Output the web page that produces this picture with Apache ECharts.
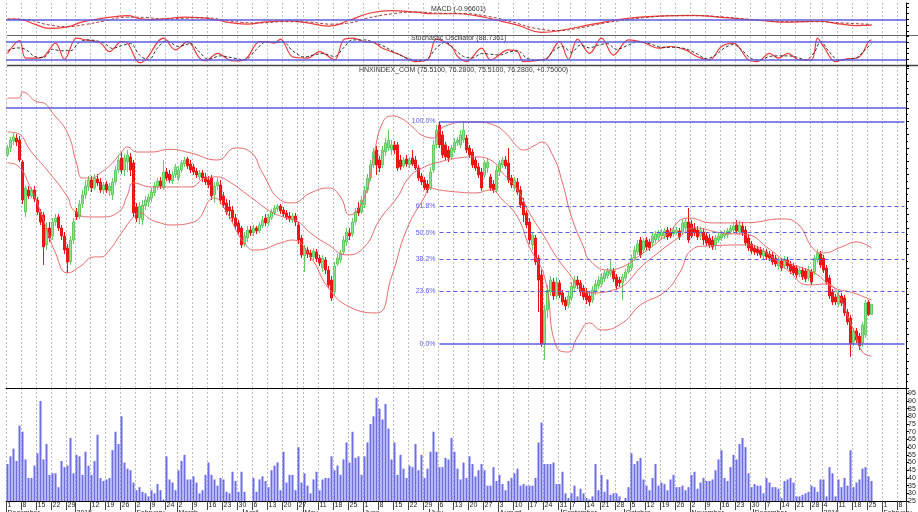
<!DOCTYPE html>
<html>
<head>
<meta charset="utf-8">
<style>
html, body { margin: 0; padding: 0; background: #fff; }
#main { width: 918px; height: 512px; }
</style>
<script src="https://cdn.jsdelivr.net/npm/echarts@6.0.0/dist/echarts.min.js"></script>
</head>
<body>
<div id="main"></div>
<script>
// trading calendar: weekdays from Dec 1 2014, minus market holidays, then empty future slots
var HOLIDAYS = ['2015-01-01', '2015-01-02', '2015-02-16', '2015-02-17', '2015-02-18', '2015-02-19',
  '2015-02-20', '2015-02-23', '2015-04-28', '2015-04-30', '2015-05-01', '2015-09-02', '2016-01-01'];
var LAST_TRADING_DAY = '2016-01-26';
var SLOTS = 300;
var MONTHS = ['January', 'February', 'March', 'April', 'May', 'June', 'July', 'August',
  'September', 'October', 'November', 'December'];

// daily candles [open, close, low, high]
var candles = [
  [87.48,88.0,87.33,88.23],[88.0,88.6,87.7,88.83],[88.53,88.83,88.23,89.13],[88.75,88.45,88.15,89.05],[88.6,87.1,86.95,88.9],
  [86.95,84.1,83.8,87.1],[83.2,85.0,82.83,85.15],[84.85,84.4,84.18,85.15],[84.4,84.85,84.25,85.08],[84.85,84.18,83.95,85.15],
  [84.1,83.2,82.98,84.33],[83.2,82.45,82.23,83.43],[82.98,80.58,79.23,83.2],[80.73,82.0,80.35,82.45],[82.0,81.25,80.95,82.45],
  [81.4,82.45,81.1,82.75],[82.45,82.75,82.15,83.05],[82.83,82.0,81.78,83.05],[82.0,81.4,81.1,82.23],[81.4,80.35,80.05,81.7],
  [80.5,79.45,78.63,80.8],[79.45,81.1,79.23,81.4],[81.1,82.45,80.8,82.75],
  [83.2,82.83,82.6,83.5],[82.83,83.8,82.68,84.1],[83.8,84.48,83.5,84.85],[84.48,85.15,84.18,85.6],[85.08,85.6,84.78,85.9],
  [85.6,85.0,84.7,85.9],[85.0,85.75,84.85,86.05],[85.68,85.38,85.15,86.05],[85.45,84.85,84.63,85.75],[84.85,85.23,84.55,85.45],
  [85.3,84.85,84.63,85.53],[84.78,85.15,84.4,85.38],[84.48,85.45,84.1,85.75],[85.45,86.35,85.23,86.65],[86.35,87.1,86.13,87.4],
  [87.25,86.35,86.05,87.7],[86.35,87.25,85.9,87.55],[86.95,87.48,86.2,87.85],[87.33,86.35,85.9,87.63],[86.88,83.13,82.83,87.1],
  [83.58,82.75,82.45,83.88],[82.75,83.65,82.3,83.95],[82.6,83.73,82.23,84.1],[83.65,84.1,83.35,84.4],[83.95,84.33,83.58,84.55],
  [84.25,84.7,83.95,85.0],[84.63,85.15,84.4,85.45],[85.08,85.53,84.85,85.75],[85.53,85.15,84.93,85.83],[85.0,86.2,84.85,87.1],
  [86.2,85.75,85.53,86.5],[86.05,85.6,85.38,86.35],[85.53,85.98,85.3,86.28],[85.98,86.58,85.75,86.8],
  [85.75,86.35,85.53,86.65],[86.35,86.88,86.13,87.1],[86.8,87.1,86.58,87.33],[87.18,86.65,86.43,87.33],[86.8,86.35,86.13,87.1],
  [86.58,86.2,85.98,86.8],[86.28,85.98,85.75,86.5],[85.83,86.13,85.6,86.35],[86.13,85.75,85.45,86.35],[85.83,85.45,85.23,86.13],
  [85.6,85.23,85.0,85.9],[85.75,84.4,84.1,85.98],[84.48,85.15,83.88,85.45],[85.15,85.45,84.85,85.75],[85.23,84.1,83.8,85.6],
  [84.4,83.73,83.5,84.7],[83.88,83.2,82.98,84.18],[83.58,83.28,82.68,84.1],[83.35,82.75,82.45,83.65],[82.75,82.15,81.93,83.05],
  [82.38,81.7,81.48,82.6],[82.0,80.73,80.5,82.15],[80.8,81.4,80.58,81.7],[81.25,81.85,80.95,82.15],[81.85,81.63,81.4,82.15],
  [81.63,82.0,81.4,82.23],[82.0,81.78,81.55,82.15],[81.78,82.23,81.63,82.45],[82.15,82.6,82.0,82.9],[82.75,82.38,82.15,83.05],
  [82.38,82.83,82.15,83.05],[82.75,83.2,82.6,83.43],[83.13,83.5,82.98,83.73],[83.43,83.65,83.2,83.8],[83.65,83.28,83.05,83.8],
  [83.35,83.05,82.83,83.58],[83.13,82.83,82.6,83.35],[82.9,82.68,82.45,83.2],[82.6,82.9,82.38,83.13],[82.9,82.45,82.15,83.13],
  [82.23,81.1,80.8,82.45],[81.25,79.98,79.75,81.48],
  [79.9,80.5,78.7,80.73],[80.35,80.05,79.75,80.58],[80.13,79.83,79.53,80.35],[79.83,80.28,79.6,80.5],[80.2,79.68,79.45,80.43],
  [79.75,79.38,79.15,79.98],[79.0,79.75,78.7,79.98],[79.6,78.85,78.55,79.83],[78.85,77.73,77.5,79.15],[78.1,76.75,76.53,78.4],
  [77.2,79.15,76.9,79.45],[79.3,79.75,79.15,80.05],[79.6,80.13,79.38,80.35],[80.2,81.1,79.98,81.4],[80.95,81.7,80.65,82.0],
  [81.63,81.4,81.1,82.0],[81.55,82.45,81.33,82.75],[82.45,83.2,82.23,83.5],[83.5,83.13,82.9,83.95],[83.2,84.1,83.05,84.4],
  [83.73,84.85,83.5,85.15],[84.85,85.75,84.63,86.05],[85.75,86.73,85.53,87.1],[86.73,87.7,86.5,88.0],[87.85,86.73,85.98,88.15],
  [87.1,86.5,86.2,87.4],[86.73,87.85,86.5,88.15],[87.7,88.38,87.4,88.75],[88.0,88.6,87.78,89.35],[87.85,88.23,87.48,88.6],
  [88.23,87.85,87.55,88.53],[88.23,86.5,86.28,88.45],[87.1,86.58,86.35,87.48],[86.65,87.1,86.5,87.33],[87.18,86.8,86.58,87.48],
  [86.73,87.1,86.5,87.33],[87.25,86.8,86.65,87.85],[87.1,86.5,86.35,87.4],[86.5,85.75,85.53,86.73],[85.9,85.45,85.23,86.13],
  [85.6,85.0,84.85,85.83],[85.3,84.85,84.63,85.6],[85.0,86.2,84.85,86.58],[86.35,88.23,86.13,88.6],[88.23,89.35,88.0,89.73],
  [89.73,88.23,88.0,90.0],[88.98,87.48,87.25,89.28],[88.23,87.33,87.1,88.45],[87.85,87.25,86.95,88.15],[87.33,88.0,87.1,88.23],
  [87.85,88.45,87.63,88.75],[88.38,88.6,88.15,88.83],[88.23,88.98,88.0,89.35],[88.6,89.35,88.38,89.95],[88.75,87.85,87.63,88.98],
  [88.0,87.48,87.25,88.23],[87.7,86.73,86.5,87.93],[87.1,86.5,86.28,87.33],[86.58,85.98,85.75,86.88],[86.2,85.0,84.78,86.5],
  [85.98,86.88,85.75,87.1],[86.5,86.95,86.13,87.25],[85.83,85.0,84.78,86.05],[85.3,84.85,84.63,85.6],[84.85,86.35,84.63,86.65],
  [86.2,86.88,85.9,87.1],[86.73,87.1,86.5,87.33],[87.1,86.65,86.43,87.4],[86.88,85.6,85.38,88.0],[85.75,85.23,85.0,85.98],
  [85.0,85.6,84.78,85.83],[85.45,84.7,84.48,85.75],[84.85,83.73,83.5,85.15],[83.95,82.98,82.45,84.25],[83.13,82.23,82.0,83.35],
  [82.45,81.1,80.8,82.75],[80.73,81.48,80.35,81.7],[81.25,79.45,79.23,81.48],[79.75,78.1,75.7,79.98],[78.48,73.3,73.08,78.85],
  [73.3,75.85,72.1,76.23],[75.85,77.35,75.25,77.73],[77.2,78.1,76.9,78.4],[77.95,76.9,76.6,78.25],[76.9,77.95,76.68,78.33],
  [77.88,76.98,76.75,78.1],[77.13,76.45,76.23,77.35],[76.6,76.15,75.85,76.83],[76.23,76.9,76.0,77.2],
  [76.75,77.65,76.53,77.95],[77.5,78.1,77.28,78.4],[78.1,77.73,77.43,78.4],[77.88,77.2,76.9,78.1],[77.5,76.83,76.6,77.73],
  [77.2,76.6,76.3,77.5],[76.9,76.45,76.15,77.2],[76.6,77.35,76.38,77.65],[77.2,77.8,76.98,78.1],[77.65,78.1,77.43,78.4],
  [77.8,78.33,77.58,78.63],[78.18,78.63,77.95,78.85],[78.4,78.78,78.18,79.0],[78.55,78.85,78.33,79.6],[78.78,78.18,77.95,79.0],
  [78.33,77.65,77.35,78.55],[78.1,77.88,77.58,78.33],[77.88,78.33,76.6,78.55],[78.25,78.7,78.03,78.93],[78.7,79.15,78.55,79.38],
  [79.0,79.75,78.78,79.98],[79.75,80.35,79.53,80.65],[80.2,80.8,79.98,81.1],[81.1,79.98,79.75,81.33],[80.35,81.03,80.13,81.25],
  [81.1,80.58,80.35,81.33],[80.95,80.5,80.28,81.18],[80.88,81.4,80.65,81.63],[81.1,81.55,80.88,81.78],[81.25,81.63,81.03,81.85],
  [81.4,81.7,81.18,81.93],[81.4,81.78,81.18,82.0],[81.85,81.33,81.1,82.08],[81.7,81.4,81.25,82.0],[81.55,81.85,81.33,82.08],
  [81.63,81.85,81.48,82.08],[81.78,81.33,81.1,82.0],[81.7,82.38,81.48,82.6],[82.0,82.45,81.78,82.68],[82.45,81.1,80.88,83.5],
  [82.3,81.4,81.25,82.6],[82.0,81.63,81.4,82.38],[81.85,81.33,81.1,82.15],[81.4,81.85,81.1,82.08],[81.7,81.1,80.73,82.0],
  [81.4,80.88,80.65,81.7],[81.25,80.73,80.5,81.55],[81.1,80.58,80.35,81.4],[80.73,81.25,80.35,81.48],[81.1,81.4,80.88,81.7],
  [81.25,81.55,81.03,81.78],[81.4,81.63,81.18,81.85],[81.48,81.78,81.25,82.0],[81.7,82.0,81.48,82.23],[81.85,82.15,81.63,82.45],
  [82.23,81.78,81.55,82.6],[81.7,82.23,81.48,82.53],[82.15,81.63,81.4,82.45],[81.85,80.88,80.65,82.15],[81.25,80.5,80.28,81.55],
  [80.8,80.28,80.05,81.03],[80.5,80.2,79.98,80.73],[80.43,80.13,79.9,80.65],[80.35,79.98,79.75,80.58],[79.9,80.28,79.68,80.5],
  [80.2,79.83,79.6,80.43],[80.05,79.75,79.53,80.28],[79.98,79.45,79.23,80.2],[79.75,79.3,79.08,79.98],[79.15,79.6,78.85,79.83],
  [79.53,79.0,78.78,79.75],[79.15,79.68,78.93,79.9],[79.6,79.15,78.93,79.83],[79.3,78.78,78.55,79.53],[79.15,78.63,78.4,79.38],
  [79.0,78.48,78.25,79.23],[78.55,78.85,78.33,79.08],[78.85,78.33,78.1,79.08],[78.78,78.18,77.95,79.0],[78.25,78.85,78.03,79.15],
  [78.7,77.95,77.73,78.93],[78.7,79.75,78.48,79.98],[79.6,80.13,79.38,80.43],[80.05,79.23,79.0,80.28],
  [79.75,78.85,78.63,79.98],[79.0,77.95,77.73,79.23],[78.25,76.9,76.68,78.48],[77.2,76.45,76.23,77.43],[76.83,76.45,76.23,77.05],
  [76.3,76.98,76.08,77.35],[76.9,76.38,76.15,77.13],[76.75,75.63,75.4,76.98],[75.7,74.95,74.73,75.93],[75.25,73.3,72.33,75.48],
  [73.45,74.28,73.15,74.5],[74.28,73.6,73.38,74.5],[73.9,73.15,72.85,74.13],[73.38,74.73,73.08,74.95],[73.98,76.38,73.75,76.6],
  [76.45,75.53,75.4,76.6],[75.51,76.28,75.51,76.28]
];

// daily volume (millions)
var volumes = [
  49,54,59,51,74,70,52,40,40,48, 56,90,52,62,42,43,43,34,51,47,
  48,66,43,55,54,42,57,48,42,51, 68,40,38,39,40,58,70,62,80,50,
  46,45,37,32,34,31,30,28,32,30, 36,32,26,54,39,37,32,45,51,55,
  39,39,41,37,30,32,42,50,42,39, 35,40,39,31,30,44,38,31,44,31,
  25,24,40,31,39,41,38,34,45,48, 50,32,57,37,42,42,32,60,37,43,
  35,30,39,44,32,39,40,40,54,45, 48,42,52,63,50,70,53,54,42,54,
  63,75,80,92,85,78,88,72,52,63, 42,55,46,40,48,47,62,45,55,40,
  46,57,70,57,47,47,53,52,66,57, 46,39,50,40,54,49,41,45,49,45,
  35,35,47,38,42,36,32,38,40,43, 46,35,36,35,35,35,40,63,76,49,
  49,49,50,36,36,44,30,27,30,35, 28,33,30,27,26,28,49,32,42,31,
  39,29,30,30,28,25,27,34,56,49, 51,53,39,35,32,40,49,35,37,36,
  32,39,42,34,34,35,32,34,42,44, 33,37,40,38,38,39,45,52,58,40,
  38,47,55,52,62,66,60,43,34,36, 35,35,30,40,37,34,34,33,27,38,
  39,40,37,28,28,29,30,31,35,34, 31,39,39,28,47,43,28,39,34,40,
  35,58,34,37,39,46,47,41,38
];

// Bollinger bands, [day index, level]
var bollUpper = [[0,91.75],[4,91.75],[5,92.2],[10,91.45],[12,91.38],[15,90.63],[20,89.13],[23,86.88],[25,85.75],
  [28,85.75],[31,86.13],[35,86.88],[38,87.7],[40,88.08],[43,87.7],[48,87.7],[54,87.9],[61,87.63],[70,87.1],
  [76,88.0],[81,87.7],[85,86.13],[91,84.1],[95,83.88],[101,84.63],[107,85.0],[111,84.33],[114,82.98],[119,84.33],
  [122,87.33],[125,89.88],[128,90.4],[131,90.25],[135,89.58],[138,88.98],[142,88.75],[144,89.35],[147,89.73],
  [152,89.95],[156,89.95],[162,89.73],[166,89.13],[170,88.08],[172,87.85],[176,88.23],[178,88.45],[182,87.33],
  [185,85.38],[188,82.83],[192,80.58],[194,79.6],[200,78.85],[204,79.0],[211,79.98],[219,81.33],[227,82.75],
  [235,82.38],[247,82.4],[258,82.68],[263,82.38],[269,80.35],[272,80.13],[278,80.58],[283,80.95],[288,80.5]];
var bollMiddle = [[0,89.2],[3,89.13],[8,87.7],[14,86.13],[20,84.33],[22,83.35],[27,82.83],[31,82.83],[37,83.2],
  [40,84.48],[42,85.38],[48,85.08],[54,85.08],[61,85.08],[66,85.75],[70,85.83],[73,85.6],[81,84.33],[88,83.2],
  [93,82.75],[97,82.45],[101,81.63],[107,80.73],[113,79.98],[119,80.58],[124,82.6],[130,84.33],[134,85.83],
  [139,86.58],[144,86.95],[150,87.25],[156,87.33],[161,87.1],[165,86.13],[170,84.85],[174,83.13],[179,81.33],
  [183,79.83],[188,78.33],[191,77.35],[194,77.13],[202,77.35],[213,79.45],[224,81.33],[229,82.0],[238,81.63],
  [247,81.48],[253,80.58],[260,79.45],[269,78.63],[275,77.58],[282,77.13],[288,76.6]];
var bollLower = [[0,86.88],[3,86.73],[8,84.85],[12,82.6],[16,80.13],[20,78.63],[24,79.08],[29,79.83],[31,79.83],
  [34,80.35],[38,81.63],[42,82.83],[44,83.13],[48,82.6],[51,82.38],[54,82.23],[62,82.45],[69,84.25],[72,83.58],
  [80,80.58],[83,80.35],[91,80.88],[95,81.1],[101,79.83],[107,77.5],[114,76.08],[123,75.63],[128,78.33],
  [133,81.85],[139,84.33],[141,85.0],[144,84.85],[150,84.7],[156,84.63],[161,84.85],[165,84.1],[170,82.83],
  [174,80.58],[179,78.33],[183,73.08],[187,72.7],[190,73.83],[194,74.88],[198,74.35],[205,74.88],[211,76.23],
  [219,77.2],[224,78.63],[228,80.35],[233,80.65],[247,80.73],[253,80.13],[260,78.85],[267,77.73],[273,77.8],
  [276,77.35],[282,74.35],[285,72.7],[288,72.4]];

// MACD and its signal line
var macdLine = [[0,0.05],[4,0.0],[9,-0.8],[14,-1.5],[20,-1.24],[25,-0.43],[31,0.11],[36,0.45],[40,0.6],[44,0.11],
  [48,-0.05],[53,0.11],[59,0.37],[64,0.27],[70,-0.16],[75,-0.6],[80,-0.8],[86,-0.43],[94,-0.27],[100,-0.6],
  [107,-1.13],[114,-0.16],[120,0.92],[128,1.45],[136,1.18],[142,0.92],[150,0.92],[156,0.6],[161,0.11],
  [170,-0.97],[178,-2.15],[184,-1.89],[195,-0.81],[206,0.11],[217,0.53],[228,0.65],[239,0.27],[250,-0.16],
  [261,-0.48],[270,-0.32],[278,-0.81],[283,-1.05],[288,-0.97]];
var macdSignal = [[0,0.05],[5,0.0],[14,-0.95],[20,-1.2],[26,-0.85],[32,-0.3],[40,0.35],[46,0.3],[52,0.05],
  [60,0.2],[66,0.25],[72,-0.1],[78,-0.5],[84,-0.6],[92,-0.4],[100,-0.45],[108,-0.8],[114,-0.6],[120,0.2],
  [128,0.9],[136,1.2],[144,1.0],[152,0.95],[160,0.5],[168,-0.4],[176,-1.5],[184,-1.85],[190,-1.5],[198,-0.7],
  [206,-0.1],[214,0.35],[222,0.6],[230,0.6],[238,0.4],[246,0.05],[254,-0.25],[262,-0.4],[270,-0.4],
  [278,-0.6],[288,-0.85]];

// Stochastic oscillator %K and %D
var stochK = [[0,41],[4,86],[6,24],[9,24],[12,29],[16,77],[19,20],[23,94],[26,88],[31,77],[34,47],[38,82],
  [40,77],[44,8],[46,18],[52,94],[56,53],[60,82],[64,24],[66,15],[70,41],[75,14],[79,18],[84,82],[86,82],
  [89,77],[91,91],[95,29],[100,24],[104,47],[109,18],[112,88],[115,94],[119,82],[122,79],[125,59],[131,35],
  [136,12],[140,18],[143,91],[148,65],[150,30],[153,12],[158,59],[161,18],[167,53],[170,47],[172,12],[178,18],
  [180,24],[184,82],[187,20],[190,91],[194,41],[198,94],[202,35],[207,88],[212,79],[217,59],[221,65],[226,53],
  [230,29],[234,18],[238,65],[242,77],[247,18],[250,12],[254,41],[257,24],[260,41],[264,18],[268,18],[270,94],
  [272,65],[276,12],[279,20],[284,29],[287,82],[288,88.74]];
var stochD = [[0,50],[3,60],[6,55],[9,30],[12,26],[15,55],[18,50],[21,50],[24,80],[27,88],[32,78],[35,58],
  [38,68],[41,75],[44,35],[47,18],[50,60],[53,85],[57,65],[61,75],[64,45],[67,20],[71,32],[75,25],[79,18],
  [83,55],[86,80],[89,80],[92,80],[95,50],[99,28],[102,35],[105,40],[109,30],[112,60],[115,88],[119,88],
  [122,80],[125,68],[129,45],[133,25],[137,15],[140,22],[143,60],[146,80],[149,55],[152,30],[155,25],[158,40],
  [161,38],[164,35],[167,45],[170,50],[173,25],[176,16],[179,18],[182,50],[185,65],[188,45],[191,70],[194,60],
  [197,70],[200,75],[203,55],[207,70],[210,82],[214,75],[218,62],[222,62],[226,57],[230,38],[233,22],[236,35],
  [239,60],[242,72],[245,50],[248,22],[251,18],[254,30],[257,32],[260,32],[263,28],[266,18],[269,45],[271,82],
  [274,45],[277,18],[280,20],[283,25],[286,55],[288,75]];

// Fibonacci retracement drawn from the July high to the August low
var FIB_START = 144;
var FIB_HIGH = 90.0, FIB_LOW = 73.3;
var FIB_RATIOS = [1, 0.618, 0.5, 0.382, 0.236, 0];
var RESIST_LEVEL = 91.02;

// ---- calendar ----
var dates = [];
var t = Date.UTC(2014, 11, 1);
while (dates.length < SLOTS) {
  var dt = new Date(t), wd = dt.getUTCDay(), s = dt.toISOString().slice(0, 10);
  if (wd > 0 && wd < 6 && (s > LAST_TRADING_DAY || HOLIDAYS.indexOf(s) < 0)) dates.push(s);
  t += 86400000;
}
function mondayOf(s) {
  var d = new Date(s + 'T00:00:00Z');
  return d.getTime() - ((d.getUTCDay() + 6) % 7) * 86400000;
}
var weekStart = {}, dayLabel = {}, monthStart = {}, lastLabel = -10;
dates.forEach(function (s, i) {
  if (i === 0 || mondayOf(s) !== mondayOf(dates[i - 1])) {
    weekStart[i] = true;
    if (i - lastLabel >= 4) { dayLabel[i] = true; lastLabel = i; }
  }
  if (i === 0 || s.slice(5, 7) !== dates[i - 1].slice(5, 7)) monthStart[i] = true;
});
function isWeek(i) { return !!weekStart[i]; }

var FONT = 'Liberation Sans';
var BLUE = '#5c5ce0';
var AXIS = '#000';

function catAxis(grid, extra) {
  var base = {
    type: 'category', gridIndex: grid, data: dates, boundaryGap: true,
    axisLine: { show: false }, axisTick: { show: false }, axisLabel: { show: false },
    splitLine: { show: true, interval: isWeek, lineStyle: { color: '#bdbdbd', width: 1, type: [2, 2] } }
  };
  for (var k in extra) base[k] = extra[k];
  return base;
}
function rightAxis(grid, extra) {
  var base = {
    type: 'value', gridIndex: grid, position: 'right', scale: true,
    axisLine: { show: true, lineStyle: { color: AXIS, width: 1 } },
    axisTick: { show: true, length: 3, lineStyle: { color: AXIS } },
    axisLabel: { show: false }, splitLine: { show: false }
  };
  for (var k in extra) base[k] = extra[k];
  return base;
}
function panel(top, height) {
  return { left: 6, right: 12, top: top, height: height, containLabel: false, outerBoundsMode: 'none' };
}

var fibLines = FIB_RATIOS.map(function (r) {
  var v = FIB_LOW + r * (FIB_HIGH - FIB_LOW);
  var solid = (r === 1 || r === 0);
  return [
    { coord: [FIB_START, v],
      lineStyle: { color: BLUE, width: solid ? 1.5 : 1, type: solid ? 'solid' : [4, 3] },
      label: { show: true, position: 'start', distance: 4, formatter: (r * 100).toFixed(1) + '%',
        color: BLUE, fontSize: 7, fontFamily: FONT } },
    { coord: [SLOTS - 1, v] }
  ];
});

var lineBase = { type: 'line', showSymbol: false, symbol: 'none', silent: true, animation: false };
function lineSeries(x, y, data, color, type, width, smooth) {
  var o = {};
  for (var k in lineBase) o[k] = lineBase[k];
  o.xAxisIndex = x; o.yAxisIndex = y; o.data = data; o.smooth = smooth;
  o.lineStyle = { color: color, width: width, type: type };
  return o;
}

var macdSeries = lineSeries(0, 0, macdLine, '#ee3b3b', 'solid', 1.2, 0.5);
macdSeries.markLine = { silent: true, symbol: 'none', label: { show: false },
  lineStyle: { color: BLUE, width: 1.5, type: 'solid' }, data: [{ yAxis: 0 }] };
var stochSeries = lineSeries(1, 1, stochK, '#ee3b3b', 'solid', 1.2, 0.35);
stochSeries.markLine = { silent: true, symbol: 'none', label: { show: false },
  lineStyle: { color: BLUE, width: 1.5, type: 'solid' }, data: [{ yAxis: 80 }, { yAxis: 20 }] };

var option = {
  animation: false,
  backgroundColor: '#fff',
  textStyle: { fontFamily: FONT },
  title: [
    { text: 'MACD (-0.96601)', left: 431, top: 6, padding: 0,
      textStyle: { fontSize: 7, fontWeight: 'normal', color: '#333', fontFamily: FONT } },
    { text: 'Stochastic Oscillator (88.7361)', left: 411, top: 35, padding: 0,
      textStyle: { fontSize: 7, fontWeight: 'normal', color: '#333', fontFamily: FONT } },
    { text: 'HNXINDEX_COM (75.5100, 76.2800, 75.5100, 76.2800, +0.75000)', left: 359, top: 66.5, padding: 0,
      textStyle: { fontSize: 7, fontWeight: 'normal', color: '#333', fontFamily: FONT } }
  ],
  grid: [panel(3, 32), panel(36.5, 28.5), panel(66, 322), panel(388, 113)],
  xAxis: [
    catAxis(0, {}),
    catAxis(1, {}),
    catAxis(2, { axisLine: { show: true, lineStyle: { color: AXIS, width: 1 } } }),
    catAxis(3, {
      axisLine: { show: true, lineStyle: { color: AXIS, width: 1 } },
      axisTick: { show: true, interval: isWeek, length: 9, lineStyle: { color: '#444' } },
      axisLabel: { show: true, interval: function (i) { return !!dayLabel[i]; },
        formatter: function (v) { return String(+v.slice(8, 10)); },
        fontSize: 7, color: '#222', align: 'left', margin: 1, fontFamily: FONT }
    }),
    {
      type: 'category', gridIndex: 3, data: dates, boundaryGap: true, position: 'bottom', offset: 8,
      axisLine: { show: false }, splitLine: { show: false },
      axisTick: { show: true, interval: function (i) { return !!monthStart[i]; }, length: 6, lineStyle: { color: '#444' } },
      axisLabel: { show: true, interval: function (i) { return !!monthStart[i]; },
        formatter: function (v) { var m = +v.slice(5, 7); return m === 1 ? v.slice(0, 4) : MONTHS[m - 1]; },
        fontSize: 7, color: '#222', align: 'left', margin: 1, fontFamily: FONT }
    }
  ],
  yAxis: [
    rightAxis(0, { scale: false, min: -2.6, max: 2.7 }),
    rightAxis(1, { scale: false, min: 0, max: 100, interval: 20 }),
    rightAxis(2, { scale: false, min: 70, max: 94.15, interval: 1,
      minorTick: { show: true, splitNumber: 2, length: 2, lineStyle: { color: AXIS } } }),
    rightAxis(3, { scale: false, min: 25, max: 98.4, interval: 5,
      axisLabel: { show: true, fontSize: 7, margin: 2, color: '#222', fontFamily: FONT,
        formatter: function (v) { return (v % 5 === 0 && v < 98) ? String(v) : ''; } } })
  ],
  graphic: [
    { type: 'line', silent: true, shape: { x1: 7, y1: 35.5, x2: 918, y2: 35.5 }, style: { stroke: '#666', lineWidth: 1 } },
    { type: 'line', silent: true, shape: { x1: 7, y1: 65.5, x2: 918, y2: 65.5 }, style: { stroke: '#444', lineWidth: 1.5 } }
  ],
  series: [
    macdSeries,
    lineSeries(0, 0, macdSignal, '#a23a3a', [3, 2], 1, 0.5),
    stochSeries,
    lineSeries(1, 1, stochD, '#333', [3, 2], 1, 0.35),
    {
      type: 'candlestick', xAxisIndex: 2, yAxisIndex: 2, data: candles, barWidth: 2, silent: true,
      itemStyle: { color: '#8fe08f', color0: '#f01c1c', borderColor: '#62cc62', borderColor0: '#e81414', borderWidth: 1 },
      markLine: {
        silent: true, symbol: 'none', animation: false,
        label: { show: false },
        data: [{ yAxis: RESIST_LEVEL, lineStyle: { color: BLUE, width: 1.5, type: 'solid' }, label: { show: false } }].concat(fibLines)
      }
    },
    lineSeries(2, 2, bollUpper, '#e46a6a', 'solid', 1, 0.5),
    lineSeries(2, 2, bollMiddle, '#e46a6a', 'solid', 1, 0.5),
    lineSeries(2, 2, bollLower, '#e46a6a', 'solid', 1, 0.5),
    {
      type: 'bar', xAxisIndex: 3, yAxisIndex: 3, data: volumes, barWidth: 2, silent: true,
      itemStyle: { color: '#6d6de6' }
    }
  ]
};

var chart = echarts.init(document.getElementById('main'));
chart.setOption(option);
</script>
</body>
</html>
